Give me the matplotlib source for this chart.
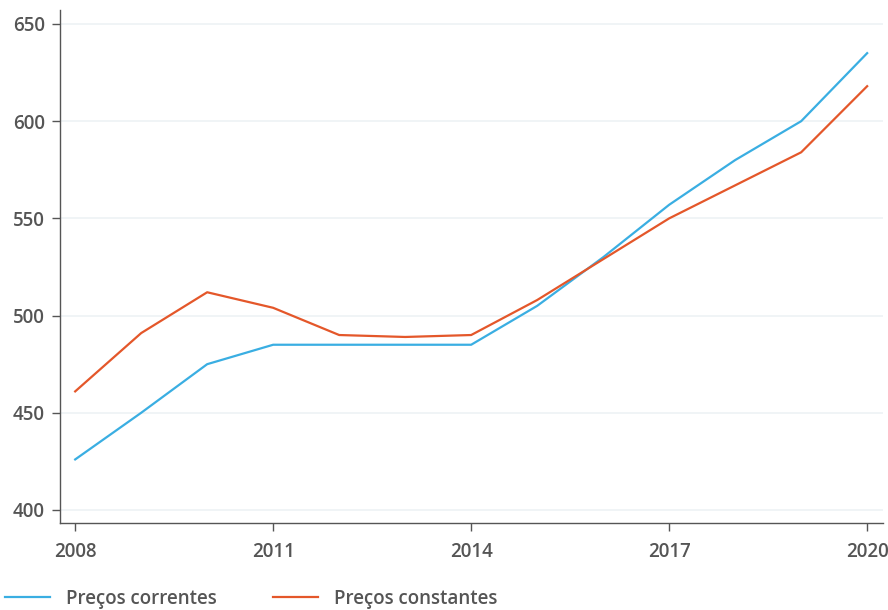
import matplotlib
matplotlib.use("Agg")
import matplotlib.pyplot as plt

years = [2008, 2009, 2010, 2011, 2012, 2013, 2014, 2015, 2016, 2017, 2018, 2019, 2020]
precos_correntes = [426, 450, 475, 485, 485, 485, 485, 505, 530, 557, 580, 600, 635]
precos_constantes = [461, 491, 512, 504, 490, 489, 490, 508, 529, 550, 567, 584, 618]
series_labels = ["Preços correntes", "Preços constantes"]
xticks = [2008, 2011, 2014, 2017, 2020]
yticks = [400, 450, 500, 550, 600, 650]

plt.rcParams['font.family'] = ['Open Sans', 'DejaVu Sans']
text_color = "#555555"
fs = 13.5

fig = plt.figure(figsize=(8.88, 6.10), dpi=100)
ax = fig.add_axes([60/888, 87/610, (883-60)/888, (523-10)/610])

ax.plot(years, precos_correntes, color="#3AAEE2", lw=1.6, label=series_labels[0])
ax.plot(years, precos_constantes, color="#E4572A", lw=1.6, label=series_labels[1])

ax.set_xlim(2007.77, 2020.24)
ax.set_ylim(393.3, 657.2)
ax.set_xticks(xticks)
ax.set_yticks(yticks)
ax.set_xticklabels([str(t) for t in xticks])
ax.set_yticklabels([str(t) for t in yticks])
ax.grid(axis='y', color="#EEF2F5", lw=1.2)
ax.set_axisbelow(True)
for s in ['top', 'right']:
    ax.spines[s].set_visible(False)
for s in ['left', 'bottom']:
    ax.spines[s].set_color("#555555")
    ax.spines[s].set_linewidth(1.0)
ax.tick_params(colors=text_color, labelcolor=text_color, length=6, width=1.0)
ax.tick_params(axis='x', pad=8)
ax.tick_params(axis='y', pad=5)
for lab in ax.get_xticklabels() + ax.get_yticklabels():
    lab.set_fontsize(fs)
    lab.set_fontweight('semibold')

leg = fig.legend(loc='center left', bbox_to_anchor=(5/888, 11/610), ncol=2, frameon=False,
                 borderaxespad=0, borderpad=0,
                 handlelength=2.4, handletextpad=0.85, columnspacing=3.0,
                 prop={'size': fs, 'weight': 'semibold'})
for t in leg.get_texts():
    t.set_color(text_color)

fig.savefig("out.png", dpi=100)
